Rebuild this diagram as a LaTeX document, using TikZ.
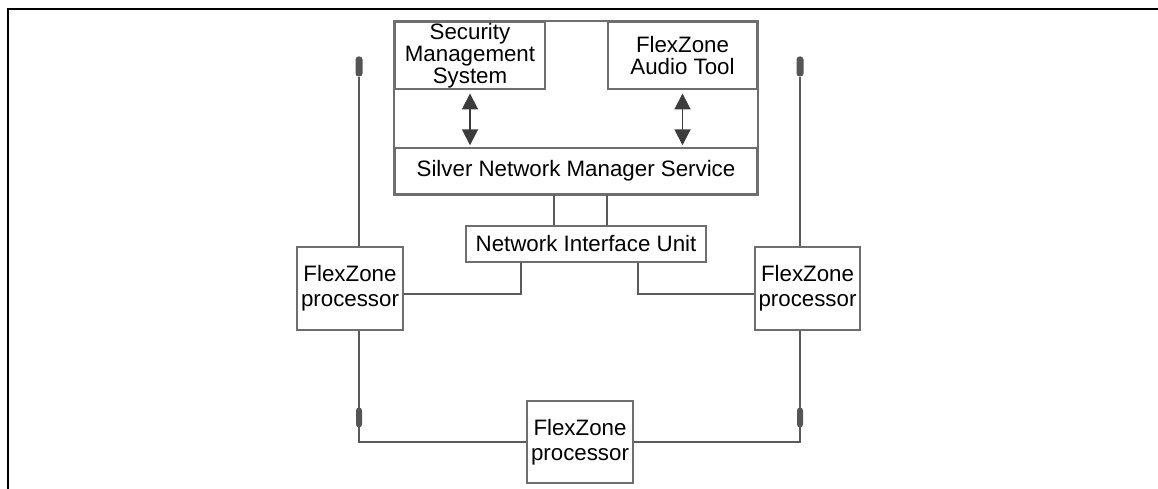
\documentclass[tikz,border=0pt]{standalone}
\usepackage{fontspec}
\setmainfont{Liberation Sans}
\usetikzlibrary{arrows.meta, positioning, calc}
\definecolor{boxgray}{HTML}{6E6E6E}
\definecolor{wiregray}{HTML}{5A5A5A}
\definecolor{pluggray}{HTML}{555555}
\definecolor{arrowgray}{HTML}{3C3C3C}

\begin{document}
\begin{tikzpicture}[x=0.02cm, y=-0.02cm, font=\fontsize{12.7}{14.2}\selectfont, align=center,
    box/.style={draw=boxgray, line width=1.1pt, inner sep=0pt},
    proc/.style={box, minimum width=2.12cm, minimum height=1.66cm},
    wire/.style={draw=wiregray, line width=1pt},
    plug/.style={fill=pluggray, rounded corners=0.06cm, minimum width=0.14cm, minimum height=0.4cm, inner sep=0pt},
    biarrow/.style={<->, >={Triangle[length=0.32cm, width=0.32cm]}, draw=arrowgray, fill=arrowgray, line width=1.1pt, shorten <=2pt, shorten >=1pt}
]
    \useasboundingbox (0,0) rectangle (1158,489);
    \draw[line width=0.85pt] (8,489) -- (8,9) -- (1158,9);

    % management side
    \node[box, minimum width=3cm, minimum height=1.34cm, font=\fontsize{12.7}{11}\selectfont] (sms) at (470,55.5) {Security\\Management\\System};
    \node[box, minimum width=2.98cm, minimum height=1.34cm, font=\fontsize{12.7}{12.5}\selectfont] (fat) at (682.5,55.5) {FlexZone\\Audio Tool};
    \node[box, minimum width=7.24cm, minimum height=0.92cm] (snms) at (576,171) {Silver Network Manager Service};
    \draw[box] (sms.north west) rectangle (snms.south east);
    \draw[biarrow] (sms.south) -- (sms.south |- snms.north);
    \draw[biarrow] (fat.south) -- (fat.south |- snms.north);

    \node[box, minimum width=4.8cm, minimum height=0.72cm] (niu) at (586,244) {Network Interface Unit};
    \draw[wire] ($(niu.north)+(-32,0)$) coordinate (n1) -- (n1 |- snms.south);
    \draw[wire] ($(niu.north)+(21,0)$) coordinate (n2) -- (n2 |- snms.south);

    % processors
    \node[proc] (lp) at (350,288.5) {FlexZone\\processor};
    \node[proc, minimum width=2.1cm] (rp) at (807.5,288.5) {FlexZone\\processor};
    \node[proc, minimum height=1.64cm] (bp) at (580,442) {FlexZone\\processor};
    \draw[wire] ($(lp.east)+(0,5.5)$) -| ($(niu.south)+(-65,0)$);
    \draw[wire] ($(rp.west)+(0,5.5)$) -| ($(niu.south)+(52,0)$);

    % antennas and loop
    \node[plug] (antl) at (359,66.5) {};
    \node[plug] (antr) at (800,66.5) {};
    \draw[wire] (antl) -- (antl |- lp.north);
    \draw[wire] (antr) -- (antr |- rp.north);
    \draw[wire] (antl |- lp.south) |- (bp.west);
    \draw[wire] (antr |- rp.south) |- (bp.east);
    \node[plug, minimum width=0.12cm] (jl) at (359,417.5) {};
    \node[plug, minimum width=0.12cm] (jr) at (800,417.5) {};
\end{tikzpicture}
\end{document}
